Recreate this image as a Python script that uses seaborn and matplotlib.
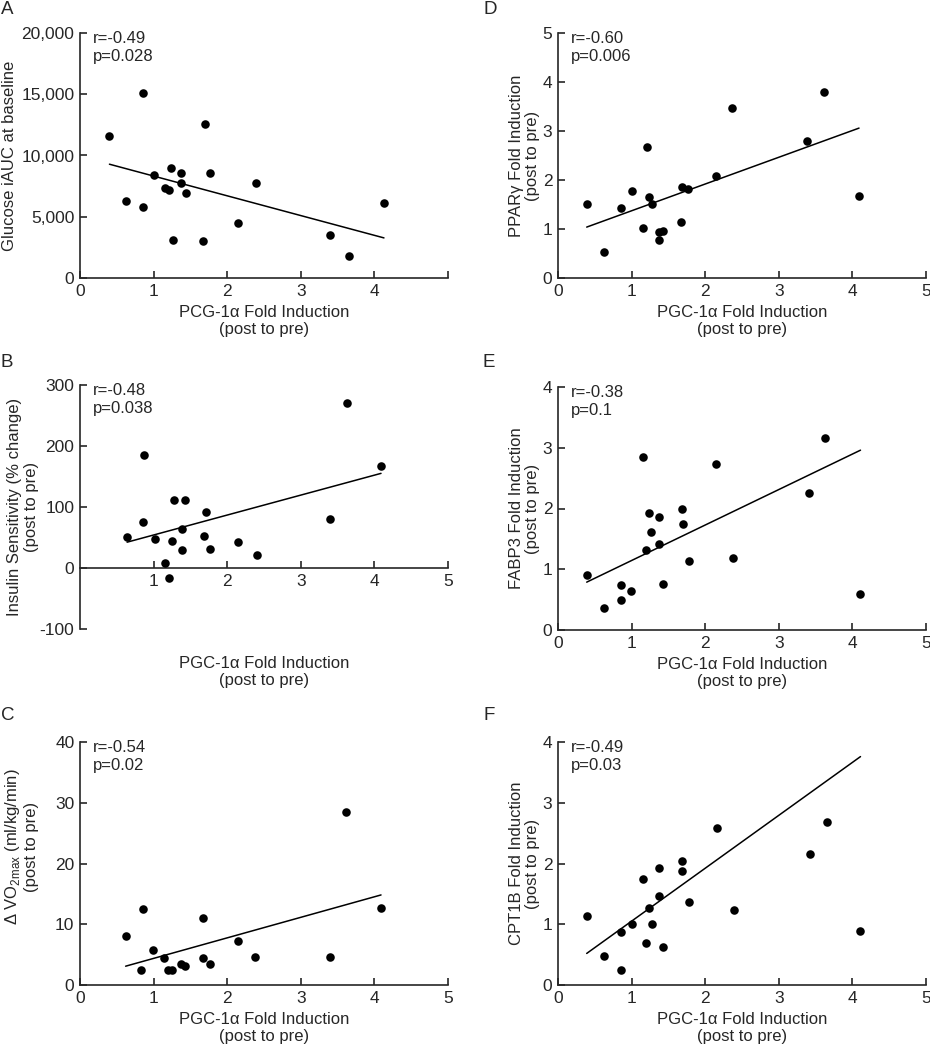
import numpy as np
import pandas as pd
import seaborn as sns
import matplotlib.pyplot as plt

# panel A: glucose iAUC vs PCG-1a
a_x = [0.40, 0.62, 0.85, 0.85, 1.00, 1.24, 1.16, 1.21, 1.27, 1.37, 1.37, 1.44, 1.70, 1.67, 1.77, 2.15, 2.39, 3.40, 3.65, 4.13]
a_y = [11600, 6300, 15100, 5800, 8400, 9000, 7350, 7150, 3100, 8550, 7750, 6950, 12600, 3050, 8600, 4500, 7750, 3500, 1800, 6150]

# panel B: insulin sensitivity
b_x = [0.64, 0.87, 0.86, 1.02, 1.16, 1.21, 1.25, 1.28, 1.43, 1.38, 1.38, 1.71, 1.69, 1.77, 2.15, 2.40, 3.39, 3.63, 4.09]
b_y = [51, 185, 75, 47, 8, -17, 45, 112, 112, 64, 29, 92, 53, 31, 42, 21, 80, 271, 167]

# panel C: delta VO2max
c_x = [0.62, 0.85, 0.83, 0.99, 1.14, 1.20, 1.25, 1.37, 1.43, 1.67, 1.67, 1.76, 2.14, 2.38, 3.39, 3.62, 4.09]
c_y = [8.0, 12.5, 2.5, 5.8, 4.4, 2.5, 2.5, 3.4, 3.2, 11.05, 4.5, 3.5, 7.2, 4.65, 4.6, 28.4, 12.7]

# panel D: PPARg
d_x = [0.39, 0.63, 0.86, 1.01, 1.16, 1.21, 1.24, 1.28, 1.37, 1.37, 1.43, 1.67, 1.68, 1.76, 2.15, 2.37, 3.38, 3.61, 4.09]
d_y = [1.50, 0.53, 1.42, 1.77, 1.02, 2.67, 1.65, 1.52, 0.93, 0.78, 0.95, 1.14, 1.86, 1.82, 2.09, 3.46, 2.80, 3.80, 1.67]

# panel E: FABP3
e_x = [0.39, 0.63, 0.85, 0.85, 0.99, 1.15, 1.19, 1.23, 1.27, 1.37, 1.37, 1.43, 1.68, 1.70, 1.78, 2.15, 2.38, 3.41, 3.63, 4.11]
e_y = [0.90, 0.37, 0.74, 0.49, 0.64, 2.85, 1.31, 1.92, 1.61, 1.86, 1.42, 0.75, 2.00, 1.74, 1.13, 2.73, 1.18, 2.25, 3.16, 0.60]

# panel F: CPT1B
f_x = [0.39, 0.63, 0.86, 0.85, 1.00, 1.16, 1.20, 1.23, 1.28, 1.37, 1.37, 1.43, 1.68, 1.68, 1.78, 2.16, 2.39, 3.42, 3.65, 4.11]
f_y = [1.14, 0.48, 0.87, 0.25, 1.01, 1.74, 0.69, 1.26, 1.00, 1.92, 1.47, 0.62, 2.04, 1.87, 1.37, 2.59, 1.24, 2.16, 2.69, 0.89]

# fitted lines as drawn (slope, intercept)
fit_slope = {'A': -1613, 'B': 32.7, 'C': 3.38, 'D': 0.546, 'E': 0.584, 'F': 0.871}
fit_intercept = {'A': 9935, 'B': 21.4, 'C': 1.0, 'D': 0.826, 'E': 0.56, 'F': 0.18}

stats = {'A': 'r=-0.49\np=0.028', 'B': 'r=-0.48\np=0.038', 'C': 'r=-0.54\np=0.02',
         'D': 'r=-0.60\np=0.006', 'E': 'r=-0.38\np=0.1', 'F': 'r=-0.49\np=0.03'}

ylabels = {'A': 'Glucose iAUC at baseline',
           'B': 'Insulin Sensitivity (% change)\n(post to pre)',
           'C': 'Δ VO$_\\mathregular{2max}$ (ml/kg/min)\n(post to pre)',
           'D': 'PPARγ Fold Induction\n(post to pre)',
           'E': 'FABP3 Fold Induction\n(post to pre)',
           'F': 'CPT1B Fold Induction\n(post to pre)'}
xlabel_a = 'PCG-1α Fold Induction\n(post to pre)'
xlabel = 'PGC-1α Fold Induction\n(post to pre)'

sns.set_style('ticks')
plt.rcParams['font.family'] = ['Liberation Sans', 'DejaVu Sans']
plt.rcParams['axes.unicode_minus'] = False
plt.rcParams['axes.linewidth'] = 1.2
plt.rcParams['xtick.direction'] = 'in'
plt.rcParams['ytick.direction'] = 'in'
plt.rcParams['xtick.major.size'] = 5
plt.rcParams['ytick.major.size'] = 5
plt.rcParams['xtick.major.width'] = 1.2
plt.rcParams['ytick.major.width'] = 1.2

W, H = 930, 1050
fig = plt.figure(figsize=(9.3, 10.5), dpi=100)


def make_axes(left, top, right, bottom):
    return fig.add_axes([left / W, 1 - bottom / H, (right - left) / W, (bottom - top) / H])


panels = {
    'A': (make_axes(80, 33, 448, 278), a_x, a_y),
    'B': (make_axes(80, 385, 448, 629), b_x, b_y),
    'C': (make_axes(80, 742, 448, 985), c_x, c_y),
    'D': (make_axes(558, 33, 926, 278), d_x, d_y),
    'E': (make_axes(558, 387, 926, 630), e_x, e_y),
    'F': (make_axes(558, 742, 926, 985), f_x, f_y),
}

ylims = {'A': (0, 20000), 'B': (-100, 300), 'C': (0, 40), 'D': (0, 5), 'E': (0, 4), 'F': (0, 4)}
yticks = {'A': [0, 5000, 10000, 15000, 20000], 'B': [-100, 0, 100, 200, 300],
          'C': [0, 10, 20, 30, 40], 'D': [0, 1, 2, 3, 4, 5], 'E': [0, 1, 2, 3, 4], 'F': [0, 1, 2, 3, 4]}
ylabel_x = {'A': -0.17, 'B': -0.112, 'C': -0.112, 'D': -0.048, 'E': -0.048, 'F': -0.048}
ylabel_y = {'A': 0.5, 'B': 0.5, 'C': 0.57, 'D': 0.5, 'E': 0.5, 'F': 0.5}

for key, (ax, xs, ys) in panels.items():
    df = pd.DataFrame({'x': xs, 'y': ys})
    sns.scatterplot(data=df, x='x', y='y', ax=ax, color='black', s=38, edgecolor='black', linewidth=0, zorder=3)
    fx = np.array([min(xs), max(xs)])
    fit = pd.DataFrame({'x': fx, 'y': fit_slope[key] * fx + fit_intercept[key]})
    sns.lineplot(data=fit, x='x', y='y', ax=ax, color='black', linewidth=1.1)

    ax.set_xlim(0, 5)
    ax.set_ylim(*ylims[key])
    sns.despine(ax=ax)
    ax.set_yticks(yticks[key])
    if key == 'A':
        ax.set_yticklabels(['0', '5,000', '10,000', '15,000', '20,000'])
        ax.set_xticks([0, 1, 2, 3, 4, 5])
        ax.set_xticklabels(['0', '1', '2', '3', '4', ''])
    elif key == 'B':
        ax.spines['bottom'].set_position(('data', 0))
        ax.set_xticks([1, 2, 3, 4, 5])
    else:
        ax.set_xticks([0, 1, 2, 3, 4, 5])
    ax.tick_params(labelsize=12.5, pad=4)

    ax.set_xlabel(xlabel_a if key == 'A' else xlabel, fontsize=12, linespacing=1.15)
    ax.xaxis.set_label_coords(0.5, -0.11)
    ax.set_ylabel(ylabels[key], fontsize=12, linespacing=1.15)
    ax.yaxis.set_label_coords(ylabel_x[key], ylabel_y[key])

    ax.text(0.035, 1.01, stats[key], transform=ax.transAxes, ha='left', va='top',
            fontsize=12, linespacing=1.3)

letters = {'A': (7, 9), 'B': (7, 362), 'C': (8, 715), 'D': (490, 9), 'E': (489, 362), 'F': (489, 715)}
for key, (lx, ly) in letters.items():
    fig.text(lx / W, 1 - ly / H, key, ha='center', va='center', fontsize=13.5)

fig.savefig('out.png', dpi=100)
